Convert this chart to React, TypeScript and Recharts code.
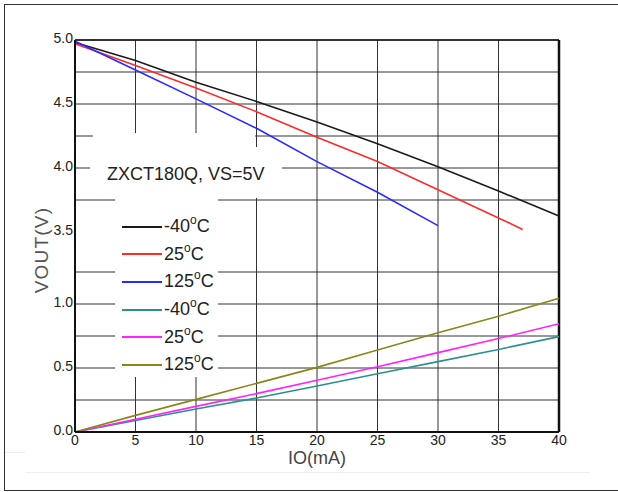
import React from "react";
import {
  LineChart,
  Line,
  CartesianGrid,
  XAxis,
  YAxis,
  Legend,
  ReferenceArea,
  ReferenceLine
} from "recharts";

// IO (mA) sample points
const ioFull = [0, 5, 10, 15, 20, 25, 30, 35, 40];
const io25Hi = [0, 5, 10, 15, 20, 25, 30, 35, 37];
const io125Hi = [0, 5, 10, 15, 20, 25, 30];

// VOUT (V), upper group
const voutHiM40 = [4.98, 4.84, 4.67, 4.52, 4.36, 4.19, 4.01, 3.82, 3.625];
const voutHi25 = [4.97, 4.8, 4.625, 4.44, 4.24, 4.05, 3.83, 3.61, 3.52];
const voutHi125 = [4.99, 4.765, 4.54, 4.31, 4.05, 3.81, 3.55];

// VOUT (V), lower group
const voutLoM40 = [0, 0.09, 0.18, 0.265, 0.36, 0.455, 0.55, 0.645, 0.745];
const voutLo25 = [0, 0.1, 0.2, 0.3, 0.405, 0.51, 0.62, 0.73, 0.845];
const voutLo125 = [0, 0.13, 0.255, 0.38, 0.505, 0.64, 0.775, 0.905, 1.045];

const xTicks = [0, 5, 10, 15, 20, 25, 30, 35, 40];
const yTickVolts = [0, 0.5, 1.0, 3.5, 4.0, 4.5, 5.0];
const yGridVolts = [0.25, 0.5, 0.75, 1.0, 1.25, 3.75, 4.0, 4.25, 4.5, 4.75, 5.0];

// broken axis: 0..1.25 stays, 3.5..5.0 is shifted down
const BREAK_SHIFT = 1.9375;
const toPlot = (v: number) => (v > 2 ? v - BREAK_SHIFT : v);
const fromPlot = (t: number) => (t > 1.4 ? t + BREAK_SHIFT : t);
const Y_MAX = toPlot(5.0);

const series = [
  { key: "hiM40", name: "-40", color: "#1a1a1a", io: ioFull, v: voutHiM40 },
  { key: "hi25", name: "25", color: "#ff2a2a", io: io25Hi, v: voutHi25 },
  { key: "hi125", name: "125", color: "#2a2aff", io: io125Hi, v: voutHi125 },
  { key: "loM40", name: "-40", color: "#2a9090", io: ioFull, v: voutLoM40 },
  { key: "lo25", name: "25", color: "#ff22ff", io: ioFull, v: voutLo25 },
  { key: "lo125", name: "125", color: "#88881a", io: ioFull, v: voutLo125 }
];

const font = "'Liberation Sans', Arial, sans-serif";

function gridRows({ yAxis, offset }: any) {
  const sc = yAxis && yAxis.scale;
  return yGridVolts.map((v) => {
    const t = toPlot(v);
    if (typeof sc === "function") return sc(t);
    if (sc && typeof sc.map === "function") return sc.map(t);
    return offset.top + offset.height * (1 - t / Y_MAX);
  });
}

function LegendBox() {
  // keep the legend in series order
  return (
    <div style={{ fontFamily: font, fontSize: 18, color: "#222" }}>
      {series.map((s) => (
        <div key={s.key} style={{ display: "flex", alignItems: "center", height: 27.6 }}>
          <div style={{ width: 40, height: 2, background: s.color, marginRight: 2 }} />
          <span>
            {s.name}
            <sup style={{ fontSize: 12, verticalAlign: 0, position: "relative", top: -8 }}>o</sup>C
          </span>
        </div>
      ))}
    </div>
  );
}

function VoutLabel({ viewBox }: any) {
  const x = viewBox.x + 13;
  const y = viewBox.y + viewBox.height / 2 + 14;
  return (
    <text
      x={x}
      y={y}
      transform={`rotate(-90, ${x}, ${y})`}
      textAnchor="middle"
      fill="#555"
      fontSize={19}
      fontFamily={font}
      letterSpacing={1.2}
    >
      VOUT(V)
    </text>
  );
}

export default function App() {
  return (
    <div
      style={{
        position: "absolute",
        left: 0,
        top: 0,
        width: 618,
        height: 492,
        overflow: "hidden",
        background: "#fff"
      }}
    >
      <div
        style={{
          position: "absolute",
          left: 4,
          top: 4,
          width: 700,
          height: 485,
          border: "1.5px solid #333"
        }}
      />
      <div style={{ position: "absolute", left: 5, top: 452, width: 20, height: 1, background: "#eee" }} />
      <div style={{ position: "absolute", left: 25, top: 472, width: 565, height: 1, background: "#eee" }} />
      <div style={{ position: "absolute", left: 0, top: 0 }}>
        <LineChart
          width={618}
          height={492}
          margin={{ top: 40, right: 59, bottom: 30, left: 35 }}
        >
          <CartesianGrid stroke="#333" strokeWidth={1} horizontalCoordinatesGenerator={gridRows} />
          <ReferenceArea x1={1.49} x2={14.88} y1={1.828} y2={2.336} fill="#fff" fillOpacity={1} stroke="none" />
          <ReferenceArea x1={1.24} x2={17.11} y1={1.828} y2={2.227} fill="#fff" fillOpacity={1} stroke="none" />
          <ReferenceArea x1={3.31} x2={11.82} y1={0.43} y2={1.852} fill="#fff" fillOpacity={1} stroke="none" />
          <ReferenceLine y={Y_MAX} stroke="#111" strokeWidth={1.5} />
          <ReferenceLine x={40} stroke="#111" strokeWidth={2.5} />
          <XAxis
            type="number"
            dataKey="io"
            domain={[0, 40]}
            ticks={xTicks}
            allowDuplicatedCategory={false}
            height={30}
            tickSize={0}
            tickMargin={3}
            axisLine={{ stroke: "#111", strokeWidth: 2 }}
            tick={{ fill: "#222", fontSize: 14, fontFamily: font }}
            label={{
              value: "IO(mA)",
              position: "insideBottom",
              offset: -2,
              fill: "#444",
              fontSize: 18,
              fontFamily: font
            }}
          />
          <YAxis
            type="number"
            domain={[0, Y_MAX]}
            ticks={yTickVolts.map(toPlot)}
            width={40}
            tickSize={0}
            tickMargin={2}
            interval={0}
            axisLine={{ stroke: "#111", strokeWidth: 2 }}
            tickFormatter={(t: number) => fromPlot(t).toFixed(1)}
            tick={{ fill: "#222", fontSize: 14, fontFamily: font, dy: -2 }}
            label={<VoutLabel />}
          />
          <Legend
            layout="vertical"
            verticalAlign="middle"
            align="center"
            content={LegendBox}
            wrapperStyle={{ position: "absolute", left: 122, top: 213, width: "auto" }}
          />
          {series.map((s) => (
            <Line
              key={s.key}
              name={s.name}
              data={s.io.map((x, i) => ({ io: x, vout: toPlot(s.v[i]) }))}
              dataKey="vout"
              type="linear"
              stroke={s.color}
              strokeWidth={1.6}
              dot={false}
              activeDot={false}
              isAnimationActive={false}
            />
          ))}
        </LineChart>
      </div>
      <div
        style={{
          position: "absolute",
          left: 107,
          top: 164,
          fontFamily: font,
          fontSize: 18,
          color: "#222",
          whiteSpace: "nowrap"
        }}
      >
        ZXCT180Q, VS=5V
      </div>
    </div>
  );
}
